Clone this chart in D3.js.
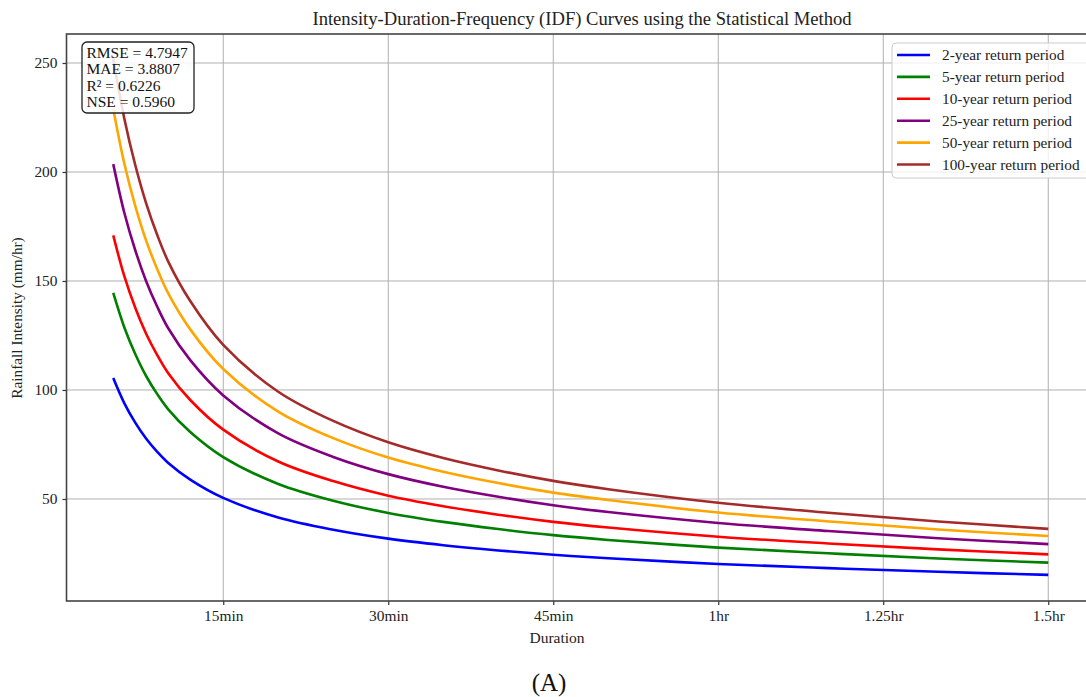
<!DOCTYPE html>
<html>
<head>
<meta charset="utf-8">
<script src="https://cdn.jsdelivr.net/npm/d3@7"></script>
<style>
  body { margin: 0; background: #fff; }
  svg { display: block; font-family: "Liberation Serif", "Times New Roman", serif; }
</style>
</head>
<body>
<div id="viz"></div>
<script>
var width = 1086;
var height = 697;

// durations in minutes
var durations = [5, 6, 7, 8, 9, 10, 12, 15, 20, 25, 30, 35, 40, 45, 50, 60, 70, 80, 90];

// intensities (mm/hr)
var rp2   = [105.5, 94.0, 85.0, 77.6, 71.6, 66.5, 58.9, 50.5, 41.5, 35.9, 31.8, 28.8, 26.4, 24.4, 22.8, 20.2, 18.3, 16.6, 15.2];
var rp5   = [144.5, 128.8, 116.5, 106.3, 98.1, 91.1, 80.7, 69.2, 56.9, 49.2, 43.6, 39.5, 36.2, 33.4, 31.2, 27.7, 25.1, 22.7, 20.8];
var rp10  = [170.9, 152.3, 137.7, 125.7, 116.0, 107.7, 95.4, 81.8, 67.2, 58.2, 51.5, 46.7, 42.8, 39.5, 36.9, 32.7, 29.6, 26.9, 24.6];
var rp25  = [203.6, 181.4, 164.1, 149.8, 138.2, 128.3, 113.7, 97.5, 80.1, 69.3, 61.4, 55.6, 51.0, 47.1, 44.0, 39.0, 35.3, 32.0, 29.3];
var rp50  = [228.9, 204.0, 184.5, 168.4, 155.4, 144.3, 127.8, 109.6, 90.1, 77.9, 69.0, 62.5, 57.3, 52.9, 49.5, 43.8, 39.7, 36.0, 33.0];
var rp100 = [252.1, 224.7, 203.2, 185.5, 171.1, 158.9, 140.8, 120.7, 99.2, 85.8, 76.0, 68.8, 63.1, 58.3, 54.5, 48.3, 43.7, 39.7, 36.3];

var seriesNames = ["2-year return period", "5-year return period", "10-year return period",
                   "25-year return period", "50-year return period", "100-year return period"];
var seriesColors = ["#0000ff", "#008000", "#ff0000", "#800080", "#ffa500", "#a52a2a"];
var seriesValues = [rp2, rp5, rp10, rp25, rp50, rp100];

var xTicks = [15, 30, 45, 60, 75, 90];
var xTickLabels = ["15min", "30min", "45min", "1hr", "1.25hr", "1.5hr"];
var yTicks = [50, 100, 150, 200, 250];

var stats = ["RMSE = 4.7947", "MAE = 3.8807", "R\u00b2 = 0.6226", "NSE = 0.5960"];

// plot area (right edge sits outside the picture, as in the original)
var plotL = 66.5, plotR = 1095, plotT = 34, plotB = 601;

var svg = d3.select("#viz").append("svg")
   .attr("width", width)
   .attr("height", height);

var x = d3.scaleLinear().domain([0.75, 94.25]).range([plotL, plotR]);
var y = d3.scaleLinear().domain([3.2, 263.3]).range([plotB, plotT]);

// grid
svg.append("g")
   .selectAll("line").data(xTicks).enter().append("line")
   .attr("x1", function(d) { return x(d); })
   .attr("x2", function(d) { return x(d); })
   .attr("y1", plotT).attr("y2", plotB)
   .style("stroke", "#b0b0b0").style("stroke-width", 1);
svg.append("g")
   .selectAll("line").data(yTicks).enter().append("line")
   .attr("x1", plotL).attr("x2", plotR)
   .attr("y1", function(d) { return y(d); })
   .attr("y2", function(d) { return y(d); })
   .style("stroke", "#b0b0b0").style("stroke-width", 1);

// curves
var line = d3.line()
   .x(function(d, i) { return x(durations[i]); })
   .y(function(d) { return y(d); })
   .curve(d3.curveCatmullRom.alpha(0.5));

svg.append("defs").append("clipPath").attr("id", "clip")
   .append("rect").attr("x", plotL).attr("y", plotT)
   .attr("width", plotR - plotL).attr("height", plotB - plotT);

svg.append("g").attr("clip-path", "url(#clip)")
   .selectAll("path").data(seriesValues).enter().append("path")
   .attr("d", line)
   .style("fill", "none")
   .style("stroke", function(d, i) { return seriesColors[i]; })
   .style("stroke-width", 2.6);

// axes
var xAxis = d3.axisBottom(x).tickValues(xTicks)
   .tickFormat(function(d, i) { return xTickLabels[i]; })
   .tickSize(4).tickPadding(5);
var yAxis = d3.axisLeft(y).tickValues(yTicks).tickSize(4).tickPadding(5);

var gx = svg.append("g").attr("transform", "translate(0," + plotB + ")").call(xAxis);
var gy = svg.append("g").attr("transform", "translate(" + plotL + ",0)").call(yAxis);
[gx, gy].forEach(function(g) {
   g.select(".domain").remove();
   g.selectAll("line").style("stroke", "#333").style("stroke-width", 1.2);
   g.selectAll("text").style("font-family", "Liberation Serif").style("font-size", "15.4px").style("fill", "#222");
});

// frame
svg.append("rect")
   .attr("x", plotL).attr("y", plotT)
   .attr("width", plotR - plotL).attr("height", plotB - plotT)
   .style("fill", "none").style("stroke", "#444").style("stroke-width", 1.6);

// title and labels
svg.append("text")
   .attr("x", 582).attr("y", 25)
   .attr("text-anchor", "middle")
   .style("font-size", "18.6px").style("fill", "#222")
   .text("Intensity-Duration-Frequency (IDF) Curves using the Statistical Method");

svg.append("text")
   .attr("x", 557).attr("y", 643)
   .attr("text-anchor", "middle")
   .style("font-size", "15.5px").style("fill", "#222")
   .text("Duration");

svg.append("text")
   .attr("transform", "translate(22,318) rotate(-90)")
   .attr("text-anchor", "middle")
   .style("font-size", "15.3px").style("fill", "#222")
   .text("Rainfall Intensity (mm/hr)");

svg.append("text")
   .attr("x", 549).attr("y", 691)
   .attr("text-anchor", "middle")
   .style("font-size", "25px").style("fill", "#111")
   .text("(A)");

// stats box
svg.append("rect")
   .attr("x", 82).attr("y", 42)
   .attr("width", 112).attr("height", 71)
   .attr("rx", 5)
   .style("fill", "#fff").style("fill-opacity", 0.85)
   .style("stroke", "#222").style("stroke-width", 1.3);
svg.append("g").selectAll("text").data(stats).enter().append("text")
   .attr("x", 86.5)
   .attr("y", function(d, i) { return 58 + i * 16.3; })
   .style("font-size", "15.5px").style("fill", "#111")
   .text(function(d) { return d; });

// legend
svg.append("rect")
   .attr("x", 892).attr("y", 43)
   .attr("width", 220).attr("height", 135)
   .attr("rx", 4)
   .style("fill", "#fff").style("fill-opacity", 0.8)
   .style("stroke", "#ccc").style("stroke-width", 1);
var leg = svg.append("g").selectAll("g").data(seriesNames).enter().append("g")
   .attr("transform", function(d, i) { return "translate(0," + (55 + i * 21.9) + ")"; });
leg.append("line")
   .attr("x1", 897).attr("x2", 930)
   .style("stroke", function(d, i) { return seriesColors[i]; })
   .style("stroke-width", 2.6);
leg.append("text")
   .attr("x", 942).attr("y", 5)
   .style("font-size", "15.3px").style("fill", "#222")
   .text(function(d) { return d; });
</script>
</body>
</html>
